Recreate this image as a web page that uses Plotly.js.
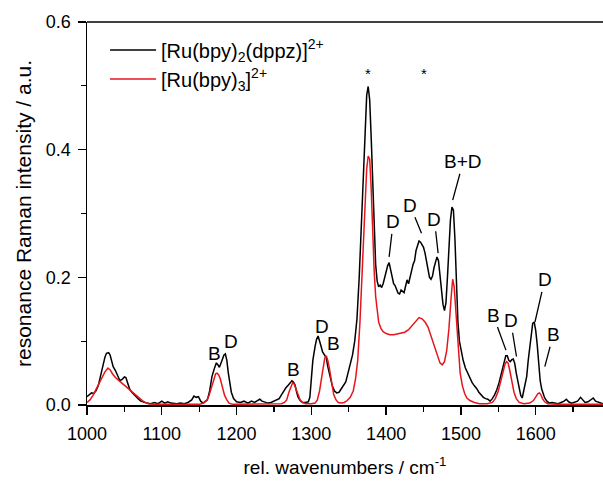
<!DOCTYPE html>
<html>
<head>
<meta charset="utf-8">
<script src="https://cdn.plot.ly/plotly-3.0.1.min.js"></script>
<style>html,body{margin:0;padding:0;background:#fff;}#chart{width:603px;height:488px;}</style>
</head>
<body>
<div id="chart"></div>
<script>
// [Ru(bpy)2(dppz)]2+ (black)
var dppzX = [1000,1003,1006,1009,1012,1015,1018,1021,1024,1026,1029,1031,1033,1035,1038,1041,1044,1047,1050,1052,1054,1057,1060,1063,1066,1069,1072,1076,1080,1085,1090,1095,1100,1104,1108,1112,1116,1120,1125,1130,1135,1140,1143,1146,1149,1152,1155,1158,1161,1164,1167,1170,1173,1175,1177,1180,1183,1185,1187,1189,1191,1193,1196,1200,1205,1210,1215,1220,1224,1228,1231,1234,1238,1242,1246,1250,1254,1257,1260,1263,1266,1269,1272,1274,1276,1278,1280,1282,1285,1288,1292,1296,1298,1300,1302,1305,1307,1309,1311,1313,1315,1317,1320,1322,1325,1328,1331,1334,1337,1340,1343,1346,1349,1352,1355,1358,1361,1364,1366,1368,1370,1372,1374,1376,1378,1380,1382,1384,1386,1388,1390,1392,1394,1396,1398,1400,1402,1404,1406,1408,1410,1412,1414,1416,1418,1420,1422,1424,1426,1428,1430,1432,1434,1436,1438,1440,1442,1444,1446,1448,1450,1452,1454,1456,1458,1460,1462,1464,1466,1468,1470,1472,1474,1476,1478,1480,1482,1484,1486,1488,1490,1492,1494,1496,1498,1500,1503,1506,1509,1512,1515,1518,1521,1524,1527,1530,1533,1536,1539,1542,1545,1548,1551,1554,1557,1560,1562,1564,1566,1568,1570,1572,1574,1576,1578,1580,1582,1584,1586,1588,1590,1592,1594,1596,1598,1600,1602,1604,1606,1608,1610,1612,1615,1618,1622,1626,1630,1634,1638,1641,1644,1648,1652,1656,1660,1663,1666,1670,1674,1677,1680,1684,1688,1690];
var dppzY = [0.013,0.016,0.019,0.018,0.022,0.030,0.045,0.062,0.075,0.081,0.082,0.078,0.068,0.060,0.054,0.047,0.038,0.040,0.044,0.043,0.036,0.025,0.020,0.016,0.012,0.009,0.006,0.004,0.003,0.002,0.004,0.002,0.006,0.003,0.005,0.003,0.002,0.002,0.003,0.002,0.004,0.008,0.014,0.012,0.013,0.006,0.003,0.005,0.008,0.022,0.044,0.056,0.066,0.063,0.059,0.068,0.078,0.080,0.070,0.050,0.032,0.020,0.010,0.005,0.004,0.006,0.003,0.006,0.004,0.007,0.009,0.006,0.004,0.003,0.004,0.006,0.008,0.010,0.016,0.022,0.027,0.031,0.035,0.038,0.036,0.032,0.022,0.013,0.007,0.004,0.004,0.005,0.012,0.045,0.070,0.092,0.103,0.108,0.101,0.092,0.083,0.079,0.074,0.060,0.042,0.030,0.022,0.019,0.020,0.025,0.029,0.036,0.050,0.062,0.078,0.100,0.135,0.200,0.260,0.330,0.390,0.440,0.485,0.499,0.478,0.420,0.340,0.270,0.220,0.194,0.185,0.188,0.184,0.190,0.200,0.208,0.218,0.223,0.210,0.198,0.190,0.187,0.180,0.175,0.174,0.180,0.178,0.176,0.186,0.196,0.190,0.198,0.210,0.220,0.226,0.242,0.252,0.257,0.255,0.250,0.247,0.238,0.225,0.212,0.200,0.197,0.202,0.215,0.226,0.232,0.226,0.205,0.180,0.158,0.148,0.160,0.200,0.250,0.290,0.310,0.305,0.260,0.190,0.130,0.100,0.085,0.070,0.058,0.050,0.042,0.035,0.030,0.026,0.020,0.016,0.012,0.010,0.009,0.006,0.010,0.016,0.024,0.035,0.050,0.066,0.077,0.077,0.070,0.068,0.071,0.072,0.065,0.050,0.040,0.028,0.015,0.011,0.022,0.030,0.045,0.070,0.092,0.115,0.128,0.130,0.117,0.095,0.060,0.038,0.025,0.018,0.011,0.006,0.003,0.004,0.003,0.002,0.004,0.006,0.009,0.005,0.003,0.004,0.006,0.012,0.008,0.004,0.005,0.009,0.011,0.006,0.004,0.003,0.002];

// [Ru(bpy)3]2+ (red)
var bpyX = [1000,1004,1008,1012,1016,1020,1024,1028,1031,1034,1038,1042,1046,1050,1054,1058,1062,1066,1070,1074,1078,1082,1090,1100,1120,1140,1150,1156,1160,1163,1166,1169,1172,1174,1176,1178,1180,1182,1184,1187,1190,1195,1220,1250,1260,1264,1267,1270,1273,1275,1277,1279,1282,1285,1288,1292,1300,1305,1308,1311,1314,1316,1318,1320,1322,1324,1326,1328,1330,1333,1336,1340,1344,1348,1352,1356,1359,1362,1365,1368,1371,1374,1376,1378,1380,1382,1384,1386,1388,1390,1393,1396,1400,1405,1410,1415,1420,1425,1430,1435,1440,1444,1448,1452,1456,1460,1464,1468,1472,1475,1478,1481,1484,1487,1489,1491,1493,1495,1497,1499,1502,1505,1508,1512,1518,1525,1535,1542,1546,1550,1553,1556,1559,1561,1563,1565,1567,1569,1571,1574,1578,1584,1592,1597,1600,1603,1605,1607,1609,1612,1616,1630,1660,1690];
var bpyY = [0.004,0.008,0.015,0.024,0.033,0.043,0.052,0.058,0.055,0.049,0.043,0.039,0.035,0.031,0.027,0.022,0.018,0.014,0.010,0.007,0.004,0.002,0.001,0.001,0.001,0.001,0.001,0.003,0.007,0.014,0.026,0.040,0.049,0.050,0.047,0.042,0.033,0.024,0.015,0.008,0.003,0.001,0.001,0.001,0.002,0.004,0.008,0.020,0.031,0.035,0.033,0.027,0.016,0.008,0.004,0.002,0.002,0.003,0.008,0.022,0.045,0.062,0.074,0.077,0.070,0.058,0.044,0.028,0.016,0.008,0.004,0.003,0.004,0.007,0.012,0.022,0.040,0.070,0.130,0.210,0.300,0.370,0.390,0.385,0.340,0.270,0.210,0.170,0.145,0.130,0.120,0.115,0.112,0.110,0.110,0.111,0.112,0.114,0.118,0.125,0.133,0.137,0.135,0.130,0.122,0.108,0.092,0.078,0.066,0.063,0.068,0.085,0.120,0.170,0.197,0.185,0.150,0.110,0.075,0.050,0.030,0.018,0.011,0.007,0.004,0.002,0.002,0.004,0.010,0.022,0.036,0.052,0.064,0.068,0.066,0.056,0.043,0.030,0.020,0.010,0.004,0.002,0.003,0.007,0.012,0.018,0.019,0.016,0.010,0.005,0.002,0.001,0.001,0.001];

// peak labels: text position and (optional) line end on the peak
var labelText = ["B","D","B","D","B","*","*","D","D","D","B+D","B","D","D","B"];
var labelX    = [1170,1192,1276,1314,1330,1376,1450,1409.5,1432,1464.5,1503,1543,1566.5,1612,1623.5];
var labelY    = [0.080,0.099,0.055,0.123,0.096,0.519,0.519,0.287,0.313,0.291,0.381,0.141,0.132,0.196,0.110];
var tipX      = [null,null,null,null,null,null,null,1404,1447.3,1469.5,1489,1560.2,1574.3,1599,1612.2];
var tipY      = [null,null,null,null,null,null,null,0.232,0.269,0.238,0.321,0.086,0.076,0.130,0.060];

var FONT = 'Arial, "Liberation Sans", sans-serif';

var traces = [
  {x: dppzX, y: dppzY, type: 'scatter', mode: 'lines', name: '[Ru(bpy)<sub>2</sub>(dppz)]<sup>2+</sup>',
   line: {color: '#000000', width: 1.5}, legendgroup: 'a'},
  {x: bpyX, y: bpyY, type: 'scatter', mode: 'lines', name: '[Ru(bpy)<sub>3</sub>]<sup>2+</sup>',
   line: {color: '#e8141b', width: 1.5}, legendgroup: 'b'}
];

var annotations = labelText.map(function (t, i) {
  var fs = t === '*' ? 15 : 19;
  if (tipX[i] !== null) {
    return {x: tipX[i], y: tipY[i], xref: 'x', yref: 'y', ax: labelX[i], ay: labelY[i], axref: 'x', ayref: 'y',
      text: t, showarrow: true, arrowhead: 0, arrowwidth: 1.3, arrowcolor: '#000', standoff: 0,
      font: {family: FONT, size: fs, color: '#000'}};
  }
  return {x: labelX[i], y: labelY[i], xref: 'x', yref: 'y', text: t, showarrow: false,
    font: {family: FONT, size: fs, color: '#000'}};
});

var layout = {
  width: 603, height: 488,
  margin: {l: 87, r: 0, t: 22, b: 83, pad: 0},
  paper_bgcolor: '#fff', plot_bgcolor: '#fff',
  font: {family: FONT, color: '#000'},
  showlegend: true,
  legend: {x: 0.035, y: 0.978, xanchor: 'left', yanchor: 'top', bgcolor: 'rgba(0,0,0,0)',
    font: {family: FONT, size: 20, color: '#000'}, traceorder: 'grouped', tracegroupgap: 0, itemwidth: 46},
  xaxis: {
    range: [1000, 1690], showgrid: false, zeroline: false,
    showline: true, linecolor: '#000', linewidth: 1.5,
    ticks: 'outside', ticklen: 8, tickwidth: 1.3, tickcolor: '#000', dtick: 100, tick0: 1000,
    ticklabelstandoff: 4,
    minor: {ticks: 'outside', ticklen: 5, tickwidth: 1.3, tickcolor: '#000', dtick: 50},
    tickfont: {family: FONT, size: 18, color: '#000'},
    title: {text: 'rel. wavenumbers / cm<sup>-1</sup>', font: {family: FONT, size: 19, color: '#000'}, standoff: 17}
  },
  yaxis: {
    range: [0, 0.6], showgrid: false, zeroline: false,
    showline: true, linecolor: '#000', linewidth: 1.5,
    ticks: 'outside', ticklen: 8, tickwidth: 1.3, tickcolor: '#000', dtick: 0.2, tick0: 0, tickformat: '.1f',
    ticklabelstandoff: 3,
    minor: {ticks: 'outside', ticklen: 5, tickwidth: 1.3, tickcolor: '#000', dtick: 0.1},
    tickfont: {family: FONT, size: 18, color: '#000'},
    title: {text: 'resonance Raman intensity / a.u.', font: {family: FONT, size: 21, color: '#000'}, standoff: 8}
  },
  shapes: [
    {type: 'line', xref: 'paper', yref: 'paper', x0: 0, x1: 1, y0: 1, y1: 1, line: {color: '#000', width: 1.5}}
  ],
  annotations: annotations
};

Plotly.newPlot('chart', traces, layout, {displayModeBar: false, staticPlot: true});
</script>
</body>
</html>
